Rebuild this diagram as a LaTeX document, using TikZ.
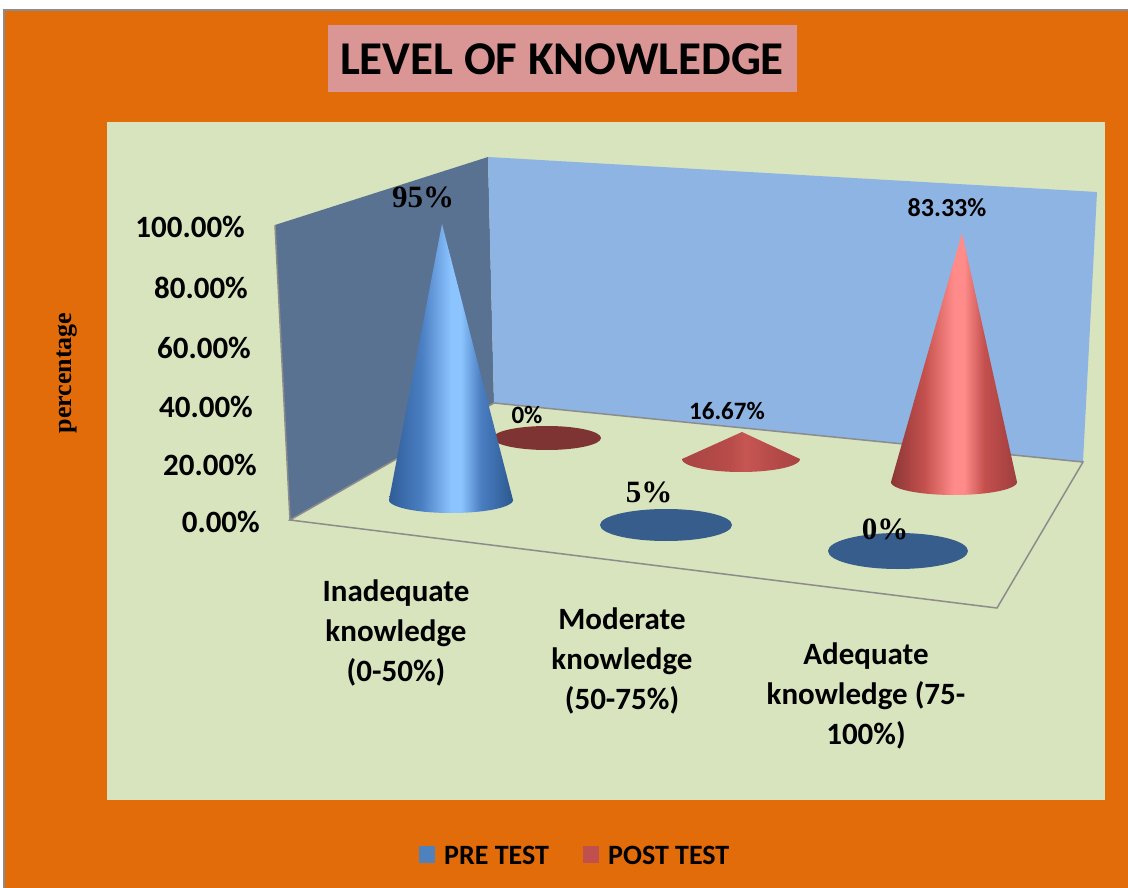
\documentclass[tikz,border=0pt]{standalone}
\usepackage{fontspec}
\setmainfont{Carlito}
\newfontfamily\tnr{Liberation Serif}
\definecolor{orangebg}{HTML}{E36C0A}
\definecolor{titlepink}{HTML}{D99694}
\definecolor{plotgreen}{HTML}{D8E4BD}
\definecolor{backwall}{HTML}{8EB4E3}
\definecolor{sidewall}{HTML}{5A7292}
\definecolor{edgegray}{HTML}{8C8C8C}
\definecolor{legblue}{HTML}{4F81BD}
\definecolor{legred}{HTML}{C0504D}
\definecolor{discblue}{HTML}{375D8C}
\definecolor{discred}{HTML}{7F3434}
\definecolor{bA}{HTML}{2F5D98}
\definecolor{bB}{HTML}{4A7EC2}
\definecolor{bC}{HTML}{8CC4FF}
\definecolor{bE}{HTML}{2C5890}
\definecolor{rA}{HTML}{8A3636}
\definecolor{rB}{HTML}{C4504E}
\definecolor{rC}{HTML}{FF8C8A}
\definecolor{rE}{HTML}{9E3E3E}
\definecolor{lA}{HTML}{A84442}
\definecolor{lB}{HTML}{B84C4A}
\definecolor{lC}{HTML}{C65652}
\pgfdeclarehorizontalshading{bluecone}{100bp}{color(0bp)=(bA); color(25bp)=(bA); color(38bp)=(bB); color(50bp)=(bC); color(54bp)=(bC); color(62bp)=(bB); color(75bp)=(bE); color(100bp)=(bE)}
\pgfdeclarehorizontalshading{redcone}{100bp}{color(0bp)=(rA); color(25bp)=(rA); color(38bp)=(rB); color(50bp)=(rC); color(54bp)=(rC); color(62bp)=(rB); color(75bp)=(rE); color(100bp)=(rE)}
\pgfdeclarehorizontalshading{lowcone}{100bp}{color(0bp)=(lA); color(25bp)=(lA); color(45bp)=(lB); color(52bp)=(lC); color(62bp)=(lB); color(75bp)=(lA); color(100bp)=(lA)}
\newcommand{\drawcone}[7]{%
  \shade[shading=#1] (#2,#3) -- plot[domain=180:0, samples=60] ({#4+#6*cos(\x)},{#5+#7*sin(\x)}) -- cycle;}
\begin{document}
\begin{tikzpicture}[x=1pt,y=-1pt, font=\bfseries,
  axlab/.style={anchor=east, inner sep=0pt, font=\bfseries\fontsize{31}{36}\selectfont},
  catlab/.style={align=center, inner sep=0pt, font=\bfseries\fontsize{31}{40}\selectfont},
  vallab/.style={inner sep=0pt, font=\bfseries\fontsize{25}{30}\selectfont},
  tnrlab/.style={inner sep=0pt, font=\tnr\bfseries\fontsize{31}{34}\selectfont},
  leglab/.style={anchor=west, inner sep=0pt, font=\bfseries\fontsize{28}{32}\selectfont}]
\useasboundingbox (0,0) rectangle (1128,888);
\fill[white] (0,0) rectangle (1128,888);
\fill[orangebg] (4,10) rectangle (1128,888);
\draw[edgegray, line width=2pt] (4,888) -- (4,10) -- (1128,10);
% title
\fill[titlepink] (328,25) rectangle (797,92);
\node[inner sep=0pt, font=\bfseries\fontsize{47}{52}\selectfont] (title) at (562,59) {LEVEL OF KNOWLEDGE};
% plot area
\fill[plotgreen] (107,122) rectangle (1105,800);
% walls
\fill[sidewall] (275,225) -- (488,157) -- (494,403) -- (290,520) -- cycle;
\fill[backwall] (488,157) -- (1097,192) -- (1083,462) -- (494,403) -- cycle;
\draw[edgegray, line width=1.5pt] (275,225) -- (290,520);
\draw[edgegray, line width=1.5pt] (290,520) -- (494,403) -- (1083,462) -- (997,608) -- cycle;
% back row (post test)
\fill[discred] (547,438) ellipse [x radius=54, y radius=12];
\drawcone{lowcone}{742}{432}{741}{459}{59}{13}
\drawcone{redcone}{962}{233}{954}{482}{63}{13}
% front row (pre test)
\drawcone{bluecone}{442}{224}{451}{500}{62}{13}
\fill[discblue] (666,525) ellipse [x radius=66, y radius=16];
\fill[discblue] (898,551) ellipse [x radius=70, y radius=18];
% value labels
\node[vallab] (v1) at (527,415) {0\%};
\node[vallab] (v2) at (727,411) {16.67\%};
\node[vallab, font=\bfseries\fontsize{26}{30}\selectfont] (v3) at (947,208) {83.33\%};
\node[tnrlab] (v4) at (423,197) {95\%};
\node[tnrlab] (v5) at (649,492) {5\%};
\node[tnrlab] (v6) at (885,529) {0\%};
% axis labels
\node[axlab] (a100) at (245,227) {100.00\%};
\node[axlab] (a80) at (248,288) {80.00\%};
\node[axlab] (a60) at (251,348) {60.00\%};
\node[axlab] (a40) at (253,407) {40.00\%};
\node[axlab] (a20) at (257,465) {20.00\%};
\node[axlab] (a0) at (260,522) {0.00\%};
\node[rotate=90, inner sep=0pt, font=\tnr\bfseries\fontsize{26}{30}\selectfont] (ytitle) at (67,373) {percentage};
% categories
\node[catlab] (c1) at (396,633) {Inadequate\\knowledge\\(0-50\%)};
\node[catlab] (c2) at (622,661) {Moderate\\knowledge\\(50-75\%)};
\node[catlab] (c3) at (866,696) {Adequate\\knowledge (75-\\100\%)};
% legend
\fill[legblue] (419,846) rectangle (435,863);
\node[leglab] (l1) at (444,855) {PRE TEST};
\fill[legred] (583,846) rectangle (599,863);
\node[leglab] (l2) at (608,855) {POST TEST};
\end{tikzpicture}
\end{document}
